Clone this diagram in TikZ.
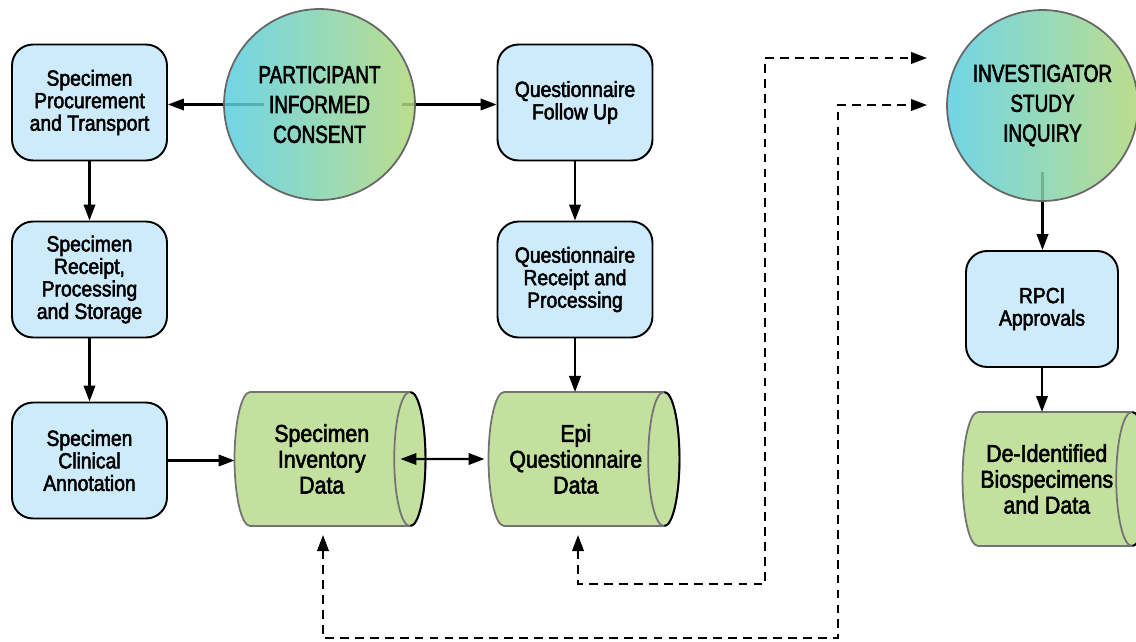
\documentclass[tikz,border=0pt]{standalone}
\usepackage{fontspec}
\setmainfont{Liberation Sans}[FakeStretch=0.88,FakeBold=2.4]
\newfontfamily\hubfont{Liberation Sans}[FakeStretch=0.77,FakeBold=2.4]
\usepackage{xcolor}
\usetikzlibrary{shapes.geometric,arrows.meta,positioning,calc,backgrounds}
\definecolor{boxblue}{HTML}{CDEBFB}
\definecolor{storegreen}{HTML}{C3E09F}
\definecolor{hubcyan}{HTML}{58CEE2}
\definecolor{hubgreen}{HTML}{B0D77A}

\begin{document}
\begin{tikzpicture}[x=0.02cm, y=-0.02cm,
  stepbox/.style={draw=black, line width=1.1pt, fill=boxblue, rounded corners=0.42cm,
    minimum width=3.1cm, minimum height=2.32cm, align=center, inner sep=0pt,
    font=\fontsize{12.5}{12.8}\selectfont},
  datastore/.style={cylinder, shape border rotate=0, aspect=0.45, draw=black!55, line width=1pt,
    fill=storegreen, minimum width=2.68cm, minimum height=3.82cm, align=center, inner sep=0pt,
    outer sep=0pt, font=\fontsize{13.8}{14.7}\selectfont},
  hub/.style={circle, draw=black!60, line width=1pt, left color=hubcyan, right color=hubgreen,
    fill opacity=0.85, text opacity=1, minimum size=3.82cm, align=center, inner sep=0pt,
    font=\hubfont\fontsize{14}{17}\selectfont},
  arr/.style={-{Triangle[length=3.2mm,width=2.3mm]}, line width=1.25pt},
  dblarr/.style={{Triangle[length=3.2mm,width=2.3mm]}-{Triangle[length=3.2mm,width=2.3mm]}, line width=1.25pt},
  dline/.style={dblarr, line width=1.25pt, dash pattern=on 5pt off 3.5pt}]
\useasboundingbox (0,0) rectangle (1136,642);
% Hubs
\node[hub] (consent) at (319.5,104.5) {PARTICIPANT\\INFORMED\\CONSENT};
\node[hub] (invest) at (1042.5,105.5) {INVESTIGATOR\\STUDY\\INQUIRY};
% Specimen column
\node[stepbox] (proc) at (89.5,102.5) {Specimen\\Procurement\\and Transport};
\node[stepbox] (receipt) at (89.5,279.5) {Specimen\\Receipt,\\Processing\\and Storage};
\node[stepbox] (clinical) at (89.5,460.5) {Specimen\\Clinical\\Annotation};
% Questionnaire column
\node[stepbox] (qfollow) at (575,102.5) {Questionnaire\\Follow Up};
\node[stepbox] (qreceipt) at (575,279.5) {Questionnaire\\Receipt and\\Processing};
% Investigator column
\node[stepbox, minimum width=3.04cm] (rpci) at (1042,309) {RPCI\\Approvals};
% Data stores
\node[datastore, anchor=shape center] (inventory) at (330,459) {Specimen\\Inventory\\Data};
\node[datastore, anchor=shape center] (epi) at (584,459) {Epi\\Questionnaire\\Data};
\node[datastore, anchor=shape center, minimum height=3.7cm] (deid) at (1055,479) {De-Identified\\Biospecimens\\and Data};
% dark front rim of each store
\foreach \s in {inventory,epi,deid}
  \draw[line width=1.1pt] ([xshift=-0.3cm,yshift=1.34cm]\s.east) arc[start angle=90, end angle=-90, x radius=0.3cm, y radius=1.34cm];
% Arrows out of the hubs
\begin{scope}[on background layer]
\draw[arr, shorten <=1.12cm] (consent.center) -- (consent.center -| proc.east);
\draw[arr, shorten <=1.65cm] (consent.center) -- (consent.center -| qfollow.west);
\draw[arr, shorten <=1.34cm] (invest.center) -- (invest.center |- rpci.north);
\end{scope}
% Flow arrows
\draw[arr] (proc) -- (receipt);
\draw[arr] (receipt) -- (clinical);
\draw[arr] (clinical.east) -- (clinical.east -| inventory.west);
\draw[arr] (qfollow) -- (qreceipt);
\draw[arr] (qreceipt.south) -- (qreceipt.south |- epi.north);
\draw[arr] (rpci.south) -- (rpci.south |- deid.north);
\draw[dblarr, shorten <=-0.5cm, shorten >=0.08cm] (inventory.east) -- (epi.west);
% Dashed inquiry links
\coordinate (epiin) at (578,535);
\coordinate (invin) at (323,535);
\coordinate (inqa) at (927,58);
\coordinate (inqb) at (927,105);
\draw[dline] (epiin) |- (765,584) |- (inqa);
\draw[dline] (invin) |- (838,638) |- (inqb);
\end{tikzpicture}
\end{document}
